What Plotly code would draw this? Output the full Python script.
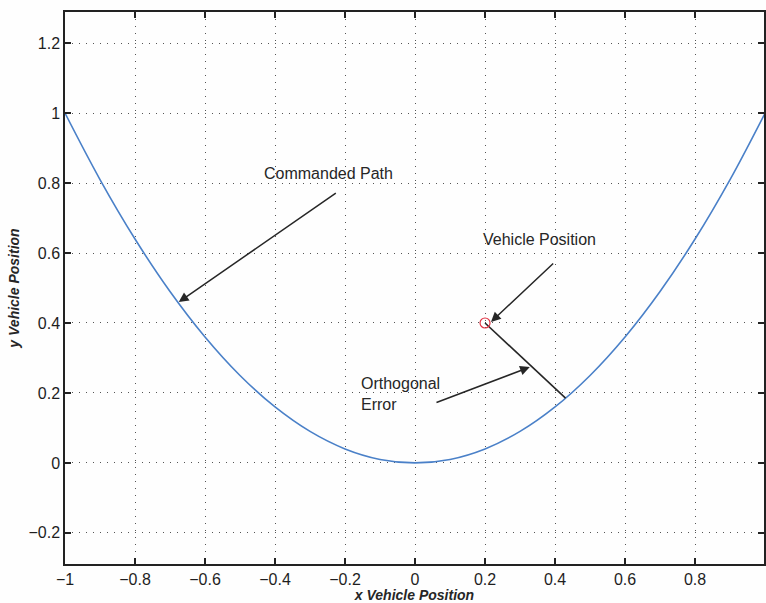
import plotly.graph_objects as go

# Commanded path samples (x, y)
path_x = [-1.0, -0.9, -0.8, -0.7, -0.6, -0.5, -0.4, -0.3, -0.2, -0.1, 0.0,
          0.1, 0.2, 0.3, 0.4, 0.5, 0.6, 0.7, 0.8, 0.9, 1.0]
path_y = [1.0, 0.81, 0.64, 0.49, 0.36, 0.25, 0.16, 0.09, 0.04, 0.01, 0.0,
          0.01, 0.04, 0.09, 0.16, 0.25, 0.36, 0.49, 0.64, 0.81, 1.0]

# Vehicle position and the nearest point on the path
vehicle_x = [0.2]
vehicle_y = [0.4]
nearest_x = [0.43]
nearest_y = [0.185]

x_ticks = [-1, -0.8, -0.6, -0.4, -0.2, 0, 0.2, 0.4, 0.6, 0.8, 1]
x_tick_text = ["\u22121", "\u22120.8", "\u22120.6", "\u22120.4", "\u22120.2", "0",
               "0.2", "0.4", "0.6", "0.8", "1"]
y_ticks = [-0.2, 0, 0.2, 0.4, 0.6, 0.8, 1, 1.2]
y_tick_text = ["\u22120.2", "0", "0.2", "0.4", "0.6", "0.8", "1", "1.2"]

FONT = "Liberation Sans, Arial, sans-serif"
INK = "#262626"

fig = go.Figure()

fig.add_trace(go.Scatter(
    x=path_x, y=path_y, mode="lines",
    line=dict(color="#4a80c8", width=1.6, shape="spline", smoothing=1.0),
    hoverinfo="skip", showlegend=False,
))

# orthogonal error segment
fig.add_trace(go.Scatter(
    x=[vehicle_x[0], nearest_x[0]], y=[vehicle_y[0], nearest_y[0]],
    mode="lines", line=dict(color=INK, width=1.6),
    hoverinfo="skip", showlegend=False,
))

fig.add_trace(go.Scatter(
    x=vehicle_x, y=vehicle_y, mode="markers",
    marker=dict(symbol="circle-open", size=10, color="#e03040", line=dict(width=1.2)),
    hoverinfo="skip", showlegend=False,
))

arrow_common = dict(
    showarrow=True, arrowhead=2, arrowsize=1.3, arrowwidth=1.5,
    arrowcolor=INK, axref="x", ayref="y", xref="x", yref="y", text="",
)

# arrows: (head x, head y, tail x, tail y)
fig.add_annotation(x=-0.675, y=0.46, ax=-0.222, ay=0.774, **arrow_common)
fig.add_annotation(x=0.217, y=0.403, ax=0.399, ay=0.574, **arrow_common)
fig.add_annotation(x=0.328, y=0.274, ax=0.057, ay=0.171, **arrow_common)

label_font = dict(family=FONT, size=16, color=INK)
fig.add_annotation(x=-0.248, y=0.826, text="Commanded Path", showarrow=False,
                   xref="x", yref="y", font=label_font)
fig.add_annotation(x=0.356, y=0.64, text="Vehicle Position", showarrow=False,
                   xref="x", yref="y", font=label_font)
fig.add_annotation(x=-0.16, y=0.197, text="Orthogonal<br>Error", showarrow=False,
                   xref="x", yref="y", xanchor="left", align="left", font=label_font)

axis_common = dict(
    showline=True, linecolor="#222", linewidth=1.5, mirror="ticks",
    ticks="inside", ticklen=6, tickwidth=1.5, tickcolor="#222",
    showgrid=True, gridcolor="#555", gridwidth=1.4, griddash="1px,6px",
    zeroline=False,
    tickfont=dict(family=FONT, size=16, color="#1e1e1e"),
)

title_font = dict(family=FONT, size=14, color=INK)
fig.update_xaxes(range=[-1, 0.997], tickvals=x_ticks, ticktext=x_tick_text,
                 title=dict(text="<b><i>x Vehicle Position</i></b>",
                            font=title_font, standoff=4),
                 **axis_common)
fig.update_yaxes(range=[-0.289, 1.289], tickvals=y_ticks, ticktext=y_tick_text,
                 title=dict(text="<b><i>y Vehicle Position</i></b>",
                            font=title_font, standoff=6),
                 **axis_common)

fig.update_layout(
    width=766, height=603,
    margin=dict(l=65, r=0, t=12, b=39),
    paper_bgcolor="#fefefe", plot_bgcolor="#fefefe",
    showlegend=False,
)

fig.write_html("out.html")
